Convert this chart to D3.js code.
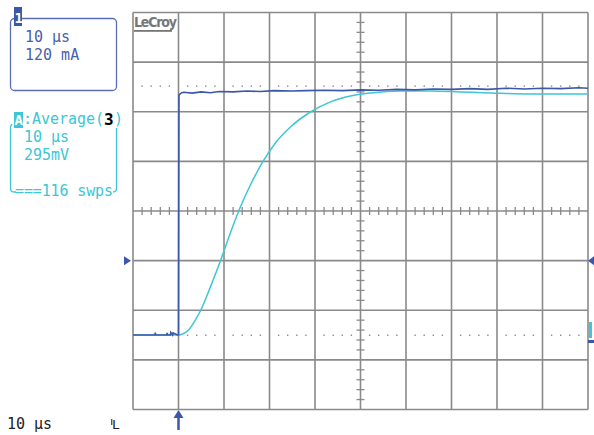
<!DOCTYPE html>
<html>
<head>
<meta charset="utf-8">
<script src="https://d3js.org/d3.v7.min.js"></script>
<style>
  body { margin: 0; background: #fff; }
  text { font-family: "DejaVu Sans Mono", monospace; }
</style>
</head>
<body>
<div id="scope"></div>
<script>
// scope settings
var timePerDiv = 10;      // µs
var ch1PerDiv = 120;      // mA
var avgPerDiv = 295;      // mV
var offsetDiv = -2.5;     // both traces sit 2.5 div below centre

// channel 1 (current)
var ch1Time = [-10, -5.2, -5.1, -5.0, -2.6, -2.5, -2.4, -1.8, -1.7, -1.3, -1.2, -0.2, 0, 0.1, 0.7, 1.2, 3, 5, 7, 9, 12, 15, 18, 21, 25, 28, 32, 36, 40, 44, 48, 52, 56, 60, 64, 68, 72, 76, 80, 84, 88, 90];
var ch1Current = [0, 0, 6, 0, 0, 5, 0, 0, 6, 0, 5, 0, 0, 581, 586, 587, 585, 588, 586, 589, 588, 590, 589, 591, 590, 591, 592, 591, 593, 592, 594, 593, 595, 594, 596, 594, 597, 595, 597, 596, 598, 597];

// math trace A: average(3), 116 sweeps
var avgTime = [-10, 0, 0.9, 2.2, 3.7, 4.8, 7.0, 9.2, 11.4, 13.6, 15.8, 18.5, 21.3, 24.6, 29.0, 33.4, 37.8, 42.2, 48.8, 55.4, 62.0, 68.6, 77.4, 90];
var avgVoltage = [0, 0, 6, 30, 89, 143, 285, 440, 607, 761, 892, 1029, 1142, 1237, 1326, 1386, 1421, 1439, 1451, 1451, 1445, 1439, 1433, 1433];

var refLevelsDiv = [2.5, -2.5];  // dotted reference levels

var width = 594, height = 435;
var gLeft = 133, gRight = 588, gTop = 12.5, gBottom = 409.5;
var gridColor = "#8a8a8a", blue = "#3d57a8", cyan = "#3cc6d6";

var svg = d3.select("#scope").append("svg")
  .attr("width", width).attr("height", height);

var x = d3.scaleLinear().domain([-10, 90]).range([gLeft, gRight]);
var yDiv = d3.scaleLinear().domain([-4, 4]).range([gBottom, gTop]);
var yCh1 = d3.scaleLinear()
  .domain([(-4 - offsetDiv) * ch1PerDiv, (4 - offsetDiv) * ch1PerDiv]).range([gBottom, gTop]);
var yAvg = d3.scaleLinear()
  .domain([(-4 - offsetDiv) * avgPerDiv, (4 - offsetDiv) * avgPerDiv]).range([gBottom, gTop]);

// grid
var g = svg.append("g");
g.selectAll("line.v").data(d3.range(-10, 91, timePerDiv)).enter().append("line")
  .attr("x1", d => x(d)).attr("x2", d => x(d))
  .attr("y1", gTop).attr("y2", gBottom)
  .attr("stroke", gridColor).attr("stroke-width", 1.6);
g.selectAll("line.h").data(d3.range(-4, 5, 1)).enter().append("line")
  .attr("x1", gLeft).attr("x2", gRight)
  .attr("y1", d => yDiv(d)).attr("y2", d => yDiv(d))
  .attr("stroke", gridColor).attr("stroke-width", 1.6);

// minor ticks on centre axes
var minorT = d3.range(-10, 90.1, 2).filter(d => d % 10 !== 0);
g.selectAll("line.mt").data(minorT).enter().append("line")
  .attr("x1", d => x(d)).attr("x2", d => x(d))
  .attr("y1", yDiv(0) - 4).attr("y2", yDiv(0) + 4)
  .attr("stroke", gridColor).attr("stroke-width", 1.3);
var minorV = d3.range(-4, 4.01, 0.2).filter(d => Math.abs(d - Math.round(d)) > 0.01);
g.selectAll("line.mv").data(minorV).enter().append("line")
  .attr("x1", x(40) - 4).attr("x2", x(40) + 4)
  .attr("y1", d => yDiv(d)).attr("y2", d => yDiv(d))
  .attr("stroke", gridColor).attr("stroke-width", 1.3);

// dotted reference levels
refLevelsDiv.forEach(function (lv, i) {
  var dots = minorT.filter(d => i === 0 || d > 0);
  g.selectAll(null).data(dots).enter().append("rect")
    .attr("x", d => x(d) - 0.7).attr("y", yDiv(lv) + (i === 0 ? -1.5 : -0.5))
    .attr("width", 1.4).attr("height", 1.4).attr("fill", "#888");
});

// LeCroy logo
svg.append("text").attr("x", 134).attr("y", 27)
  .attr("font-weight", "bold").attr("font-size", 14).attr("fill", "#777")
  .attr("textLength", 43).text("LeCroy")
  .style("font-family", "'DejaVu Sans Condensed', sans-serif");
svg.append("rect").attr("x", 134).attr("y", 30).attr("width", 38).attr("height", 1.8).attr("fill", "#777");

// traces
var lineCh1 = d3.line().x((d, i) => x(ch1Time[i])).y(d => yCh1(d)).curve(d3.curveLinear);
var lineAvg = d3.line().x((d, i) => x(avgTime[i])).y(d => yAvg(d)).curve(d3.curveMonotoneX);

svg.append("path").attr("d", lineAvg(avgVoltage))
  .attr("fill", "none").attr("stroke", cyan).attr("stroke-width", 1.5);
svg.append("path").attr("d", lineCh1(ch1Current))
  .attr("fill", "none").attr("stroke", blue).attr("stroke-width", 1.6);

// channel 1 box
svg.append("rect").attr("x", 10.5).attr("y", 18.5).attr("width", 106).attr("height", 72)
  .attr("rx", 4).attr("fill", "none").attr("stroke", "#5a6db5").attr("stroke-width", 1.3);
svg.append("rect").attr("x", 14).attr("y", 7).attr("width", 8).attr("height", 19).attr("fill", "#3d57a8");
svg.append("text").attr("x", 14.5).attr("y", 23).attr("font-size", 14).attr("font-weight", "bold")
  .attr("fill", "#fff").text("1");
svg.append("text").attr("x", 25).attr("y", 42).attr("font-size", 15).attr("fill", "#4a5fab").text("10 µs");
svg.append("text").attr("x", 25).attr("y", 60).attr("font-size", 15).attr("fill", "#4a5fab").text("120 mA");

// math A box
var boxA = svg.append("g").attr("stroke", cyan).attr("fill", "none").attr("stroke-width", 1.3);
boxA.append("path").attr("d", "M12,124 L10.5,127 L10.5,188 Q10.5,192 14,192 L16,192");
boxA.append("path").attr("d", "M116.5,128 L116.5,188 Q116.5,192 113,192");
svg.append("rect").attr("x", 14).attr("y", 112).attr("width", 9).attr("height", 16).attr("fill", cyan);
svg.append("text").attr("x", 14.5).attr("y", 125).attr("font-size", 14).attr("font-weight", "bold")
  .attr("fill", "#fff").text("A");
svg.append("text").attr("x", 23).attr("y", 124).attr("font-size", 15).attr("fill", cyan)
  .attr("textLength", 81).text(":Average(");
svg.append("text").attr("x", 104).attr("y", 125).attr("font-size", 16).attr("font-weight", "bold")
  .attr("fill", "#000").text("3");
svg.append("text").attr("x", 114).attr("y", 124).attr("font-size", 15).attr("fill", cyan).text(")");
svg.append("text").attr("x", 24).attr("y", 142).attr("font-size", 15).attr("fill", cyan).text("10 µs");
svg.append("text").attr("x", 24).attr("y", 160).attr("font-size", 15).attr("fill", cyan).text("295mV");
svg.append("text").attr("x", 15).attr("y", 196).attr("font-size", 15).attr("fill", cyan)
  .attr("textLength", 98).text("===116 swps");

// bottom status line
svg.append("text").attr("x", 7).attr("y", 429).attr("font-size", 15).attr("fill", "#222").text("10 µs");
svg.append("rect").attr("x", 111).attr("y", 419).attr("width", 1.4).attr("height", 6).attr("fill", "#555");
svg.append("text").attr("x", 112).attr("y", 429).attr("font-size", 13).attr("fill", "#222").text("L");

// trigger arrow (time 0)
svg.append("line").attr("x1", x(0)).attr("x2", x(0)).attr("y1", 416).attr("y2", 430)
  .attr("stroke", blue).attr("stroke-width", 2.5);
svg.append("path").attr("d", "M" + x(0) + ",410 l-5,8 l10,0 z").attr("fill", blue);

// level markers
svg.append("path").attr("d", "M124," + (yDiv(-1) - 4.5) + " l7,4.5 l-7,4.5 z").attr("fill", blue);
svg.append("path").attr("d", "M594," + (yDiv(-1) - 4.5) + " l-6,4.5 l6,4.5 z").attr("fill", blue);
svg.append("rect").attr("x", 589).attr("y", 322).attr("width", 3).attr("height", 16).attr("fill", cyan);
svg.append("rect").attr("x", 588).attr("y", 340).attr("width", 6).attr("height", 3).attr("fill", blue);
</script>
</body>
</html>
